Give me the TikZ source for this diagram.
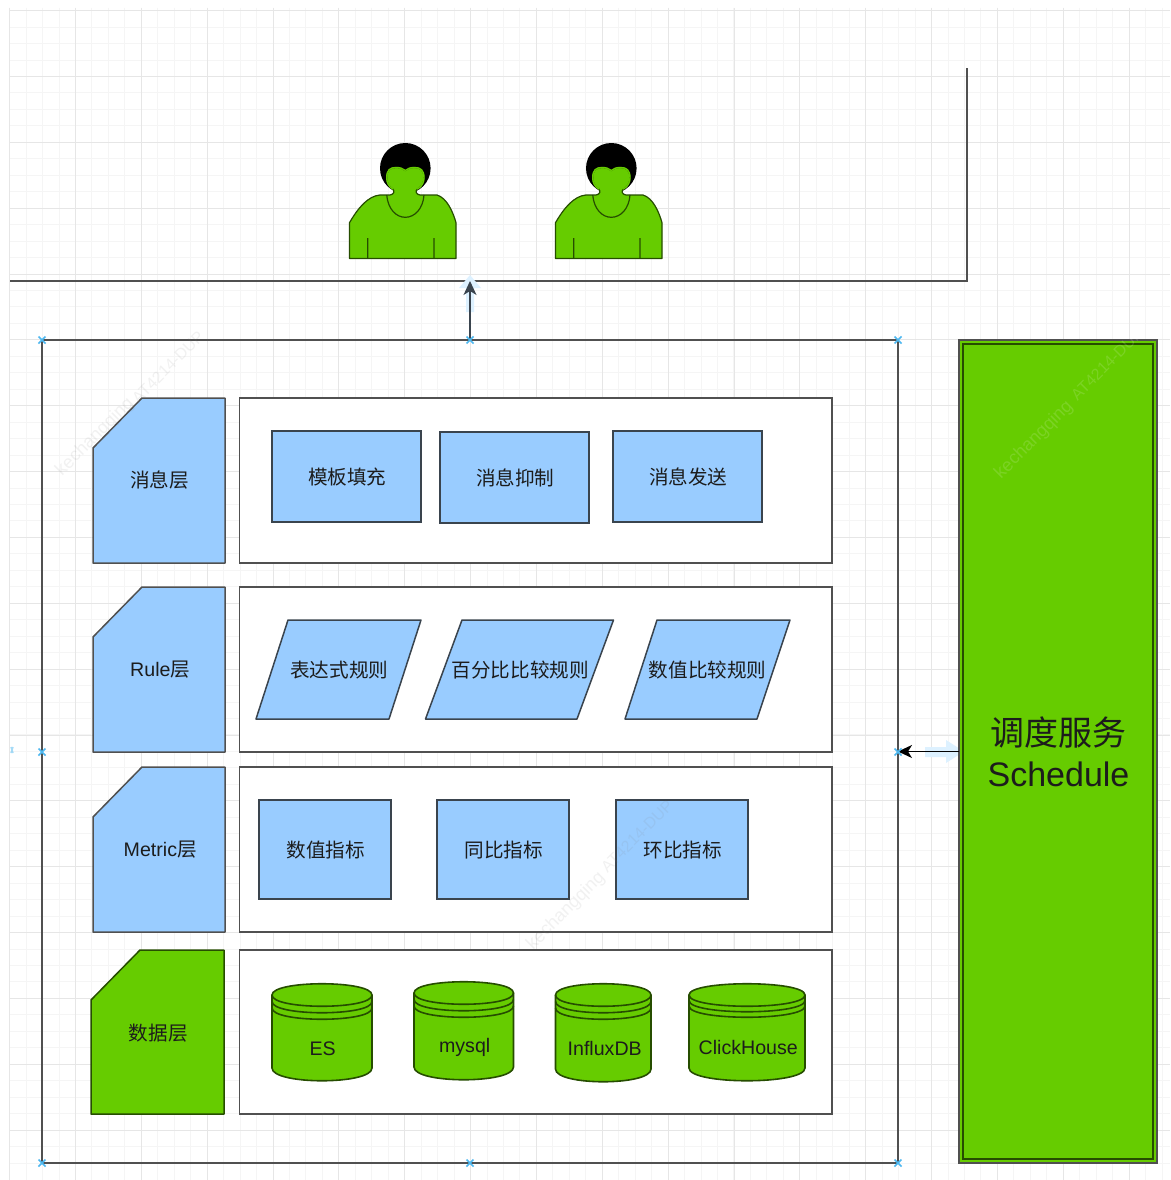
\documentclass[tikz,border=0pt]{standalone}
\usepackage{fontspec}
\usetikzlibrary{arrows.meta}
\setmainfont{Liberation Sans}
\newfontfamily\cjk{Noto Sans CJK SC}
\definecolor{blueF}{HTML}{99CCFF}
\definecolor{greenF}{HTML}{66CC00}
\definecolor{gridMajor}{HTML}{E6E6E6}
\definecolor{gridMinor}{HTML}{F5F5F5}
\definecolor{lineG}{HTML}{505050}
\definecolor{lineD}{HTML}{3A444E}
\definecolor{lineGr}{HTML}{264D00}
\definecolor{txt}{HTML}{1C1C1C}
\definecolor{halo}{HTML}{DDF1FF}
\definecolor{mark}{HTML}{4DB8F0}
\tikzset{
  lab/.style={font=\fontsize{19.6}{22}\selectfont, text=txt, inner sep=0pt},
  shifted/.style={xshift=.7pt, yshift=-.8pt},
  rowbox/.style={draw=lineG, line width=1.5pt, fill=white, inner sep=0pt, outer sep=0pt},
  bluebox/.style={draw=lineD, line width=1.5pt, fill=blueF, inner sep=0pt, outer sep=0pt, lab},
  frameline/.style={draw=lineG, line width=1.5pt},
  arrowline/.style={draw=lineD, line width=1.3pt, -{Stealth[length=14pt,width=13pt,inset=4pt]}},
  persona/.style={draw=lineGr, line width=1.2pt, fill=greenF, line join=round},
  xmark/.style={draw=mark, line width=1.5pt},
  wmark/.style={font=\fontsize{18}{20}\selectfont, rotate=45, inner sep=0pt},
}
\newcommand\xm[2]{\draw[xmark] (#1-3.5,#2-3.5) -- (#1+3.5,#2+3.5) (#1-3.5,#2+3.5) -- (#1+3.5,#2-3.5);}
\newcommand\cardshape[5]{%
  \filldraw[#5, line width=1.5pt, line join=round] ({#1+49},#2) -- (#3,#2) -- (#3,#4) -- (#1,#4) -- (#1,{#2+50}) -- cycle;}
\newcommand\para[4]{%
  \filldraw[draw=lineD, fill=blueF, line width=1.5pt, line join=round] (#1,719) -- (#2,620) -- (#3,620) -- (#4,719) -- cycle;}
\newcommand\cyl[5]{%
  \filldraw[draw=lineGr, fill=greenF, line width=1.6pt]
    (#1,{#3+12}) .. controls (#1,{#3-3}) and (#2,{#3-3}) .. (#2,{#3+12})
    -- (#2,{#4-13}) .. controls (#2,{#4+4}) and (#1,{#4+4}) .. (#1,{#4-13}) -- cycle;
  \draw[draw=lineGr, line width=1.6pt]
    (#1,{#3+12}) .. controls (#1,{#3+27}) and (#2,{#3+27}) .. (#2,{#3+12})
    (#1,{#3+12+#5}) .. controls (#1,{#3+27+#5}) and (#2,{#3+27+#5}) .. (#2,{#3+12+#5})
    (#1,{#3+12+2*#5}) .. controls (#1,{#3+27+2*#5}) and (#2,{#3+27+2*#5}) .. (#2,{#3+12+2*#5});}
\newcommand\personshape{%
  \fill[black] (405.3,168.3) circle (25.3);
  \filldraw[persona]
    (349.5,258.5) -- (349.5,222.7)
    .. controls (358,208) and (368,196) .. (380,195)
    -- (390,195) .. controls (394,194.5) and (395,191) .. (392.7,189)
    .. controls (388.5,186.5) and (386.7,182) .. (386.7,178)
    .. controls (386.7,170) and (390,167.5) .. (396,167.5)
    .. controls (400,167.5) and (403,168.5) .. (405.3,170.5)
    .. controls (407.5,168.5) and (410.5,167.5) .. (414.5,167.5)
    .. controls (420.5,167.5) and (424,170) .. (424,178)
    .. controls (424,182) and (422,186.5) .. (417.5,189)
    .. controls (415,191) and (416,194.5) .. (420,195)
    -- (437,195) .. controls (447,198) and (453,212) .. (456,222.7)
    -- (456,258.5) -- cycle;
  \draw[greenF, line width=1.4pt, line cap=round]
    (392.7,189)
    .. controls (388.5,186.5) and (386.7,182) .. (386.7,178)
    .. controls (386.7,170) and (390,167.5) .. (396,167.5)
    .. controls (400,167.5) and (403,168.5) .. (405.3,170.5)
    .. controls (407.5,168.5) and (410.5,167.5) .. (414.5,167.5)
    .. controls (420.5,167.5) and (424,170) .. (424,178)
    .. controls (424,182) and (422,186.5) .. (417.5,189);
  \draw[draw=lineGr, line width=1.2pt]
    (386.7,195) .. controls (388,209) and (396,217.3) .. (405.3,217.3)
    .. controls (414.5,217.3) and (423,209) .. (424,195)
    (367.7,238) -- (367.7,258.5) (434,238) -- (434,258.5);}
\begin{document}
\begin{tikzpicture}[x=1pt,y=-1pt]
\useasboundingbox[fill=white] (0,0) rectangle (1170,1180);
% grid
\foreach \i in {0,...,70} {
  \pgfmathsetmacro\gx{round(9.15+16.4625*\i)+.5}
  \pgfmathsetmacro\gy{round(10.15+16.4625*\i)+.5}
  \ifdim\gx pt<1170pt \draw[gridMinor, line width=1.5pt] (\gx,8) -- (\gx,1180); \fi
  \ifdim\gy pt<1180pt \draw[gridMinor, line width=1.5pt] (10,\gy) -- (1170,\gy); \fi
}
\foreach \i in {0,...,17} {
  \pgfmathsetmacro\gx{round(9.15+65.85*\i)+.5}
  \pgfmathsetmacro\gy{round(10.15+65.85*\i)+.5}
  \ifdim\gx pt<1170pt \draw[gridMajor, line width=1.5pt] (\gx,8) -- (\gx,1180); \fi
  \ifdim\gy pt<1180pt \draw[gridMajor, line width=1.5pt] (10,\gy) -- (1170,\gy); \fi
}
% top frame
\coordinate (frameL) at (10,281);
\coordinate (frameC) at (967,281);
\coordinate (frameT) at (967,68);
\coordinate (frameArrow) at (470,281);
\draw[frameline, line join=miter] (frameL) -- (frameC) -- (frameT);
% people
\personshape
\begin{scope}[xshift=206pt]\personshape\end{scope}
% halos
\fill[halo] (466,312) -- (466,288) -- (459,288) -- (470,275) -- (481,288) -- (474,288) -- (474,312) -- cycle;
\fill[halo] (925,747) -- (946,747) -- (946,740) -- (964,751.5) -- (946,763) -- (946,757) -- (925,757) -- cycle;
% main containers
\node[draw=lineG, line width=1.6pt, inner sep=0pt, outer sep=0pt, minimum width=856pt, minimum height=823pt] (outer) at (470,751.5) {};
\node[draw=lineG, line width=1.6pt, fill=greenF, inner sep=0pt, outer sep=0pt, minimum width=198pt, minimum height=823pt] (sched) at (1058,751.5) {};
\node[draw=lineGr, line width=1.8pt, inner sep=0pt, outer sep=0pt, minimum width=190pt, minimum height=815pt] (schedIn) at (1058,751.5) {};
\node[text=txt, align=center, inner sep=0pt, font=\fontsize{34}{41}\selectfont] (schedText) at (1058.5,752) {{\cjk 调度服务}\\Schedule};
% arrows
\draw[arrowline] (outer.north) -- (frameArrow);
\draw[arrowline, draw=black, fill=black] (sched.west) -- (outer.east);
% rows
\node[rowbox, minimum width=592.5pt, minimum height=165pt] (row1) at (535.75,480.5) {};
\node[rowbox, minimum width=592.5pt, minimum height=165pt] (row2) at (535.75,669.5) {};
\node[rowbox, minimum width=592.5pt, minimum height=165pt] (row3) at (535.75,849.5) {};
\node[rowbox, minimum width=592.5pt, minimum height=164pt] (row4) at (535.75,1032) {};
% layer cards
\cardshape{93}{398}{225}{563}{draw=lineG, fill=blueF}
\cardshape{93}{587}{225}{752}{draw=lineG, fill=blueF}
\cardshape{93}{767}{225}{932}{draw=lineG, fill=blueF}
\cardshape{91}{950}{224}{1114}{draw=lineGr, fill=greenF}
\node[lab, shifted] (cardA) at (159,479) {\cjk 消息层};
\node[lab, shifted] (cardB) at (159.5,669) {Rule{\cjk 层}};
\node[lab, shifted] (cardC) at (159.5,849) {Metric{\cjk 层}};
\node[lab, shifted] (cardD) at (157.5,1032) {\cjk 数据层};
% message row
\node[bluebox, minimum width=149pt, minimum height=91pt] (m1) at (346.5,476.5) {};
\node[bluebox, minimum width=149pt, minimum height=91pt] (m2) at (514.5,477.5) {};
\node[bluebox, minimum width=149pt, minimum height=91pt] (m3) at (687.5,476.5) {};
\node[lab, shifted] (m1t) at (m1.center) {\cjk 模板填充};
\node[lab, shifted] (m2t) at (m2.center) {\cjk 消息抑制};
\node[lab, shifted] (m3t) at (m3.center) {\cjk 消息发送};
% rule row
\para{256}{288}{421}{389}
\para{425.5}{462}{613.5}{577}
\para{625}{657}{790}{757}
\node[lab, shifted] (r1) at (338.5,669) {\cjk 表达式规则};
\node[lab, shifted] (r2) at (519.5,669) {\cjk 百分比比较规则};
\node[lab, shifted] (r3) at (707,669) {\cjk 数值比较规则};
% metric row
\node[bluebox, minimum width=132pt, minimum height=99pt] (t1) at (325,849.5) {};
\node[bluebox, minimum width=132pt, minimum height=99pt] (t2) at (503,849.5) {};
\node[bluebox, minimum width=132pt, minimum height=99pt] (t3) at (682,849.5) {};
\node[lab, shifted] (t1t) at (t1.center) {\cjk 数值指标};
\node[lab, shifted] (t2t) at (t2.center) {\cjk 同比指标};
\node[lab, shifted] (t3t) at (t3.center) {\cjk 环比指标};
% data row
\cyl{272}{372}{983}{1081}{6.5}
\cyl{414}{513.5}{981}{1080}{6.5}
\cyl{555.5}{651}{983}{1082}{6.5}
\cyl{689}{805}{983}{1081}{5.5}
\node[lab, shifted] (d1) at (322,1048) {ES};
\node[lab, shifted] (d2) at (464,1047) {mysql};
\node[lab, shifted] (d3) at (604,1048) {InfluxDB};
\node[lab, shifted] (d4) at (747.5,1047) {ClickHouse};
% anchor marks
\xm{42}{340}\xm{470}{340}\xm{898}{340}
\xm{42}{752}\xm{898}{752}
\xm{42}{1163}\xm{470}{1163}\xm{898}{1163}
\draw[xmark, opacity=.5] (11,747) -- (13,753) (13,747) -- (11,753);
% watermarks
\node[wmark, text=gray, opacity=.11] (w1) at (95,437) {kechangqing};
\node[wmark, text=gray, opacity=.11, font=\fontsize{16}{18}\selectfont] (w2) at (168,367) {AT4214-DUP};
\node[wmark, text=white, opacity=.14] (w3) at (1034,440) {kechangqing};
\node[wmark, text=white, opacity=.14, font=\fontsize{16}{18}\selectfont] (w4) at (1107,364) {AT4214-DUP};
\node[wmark, text=gray, opacity=.11] (w5) at (566,911) {kechangqing};
\node[wmark, text=gray, opacity=.11, font=\fontsize{16}{18}\selectfont] (w6) at (637,836) {AT4214-DUP};
\end{tikzpicture}
\end{document}
